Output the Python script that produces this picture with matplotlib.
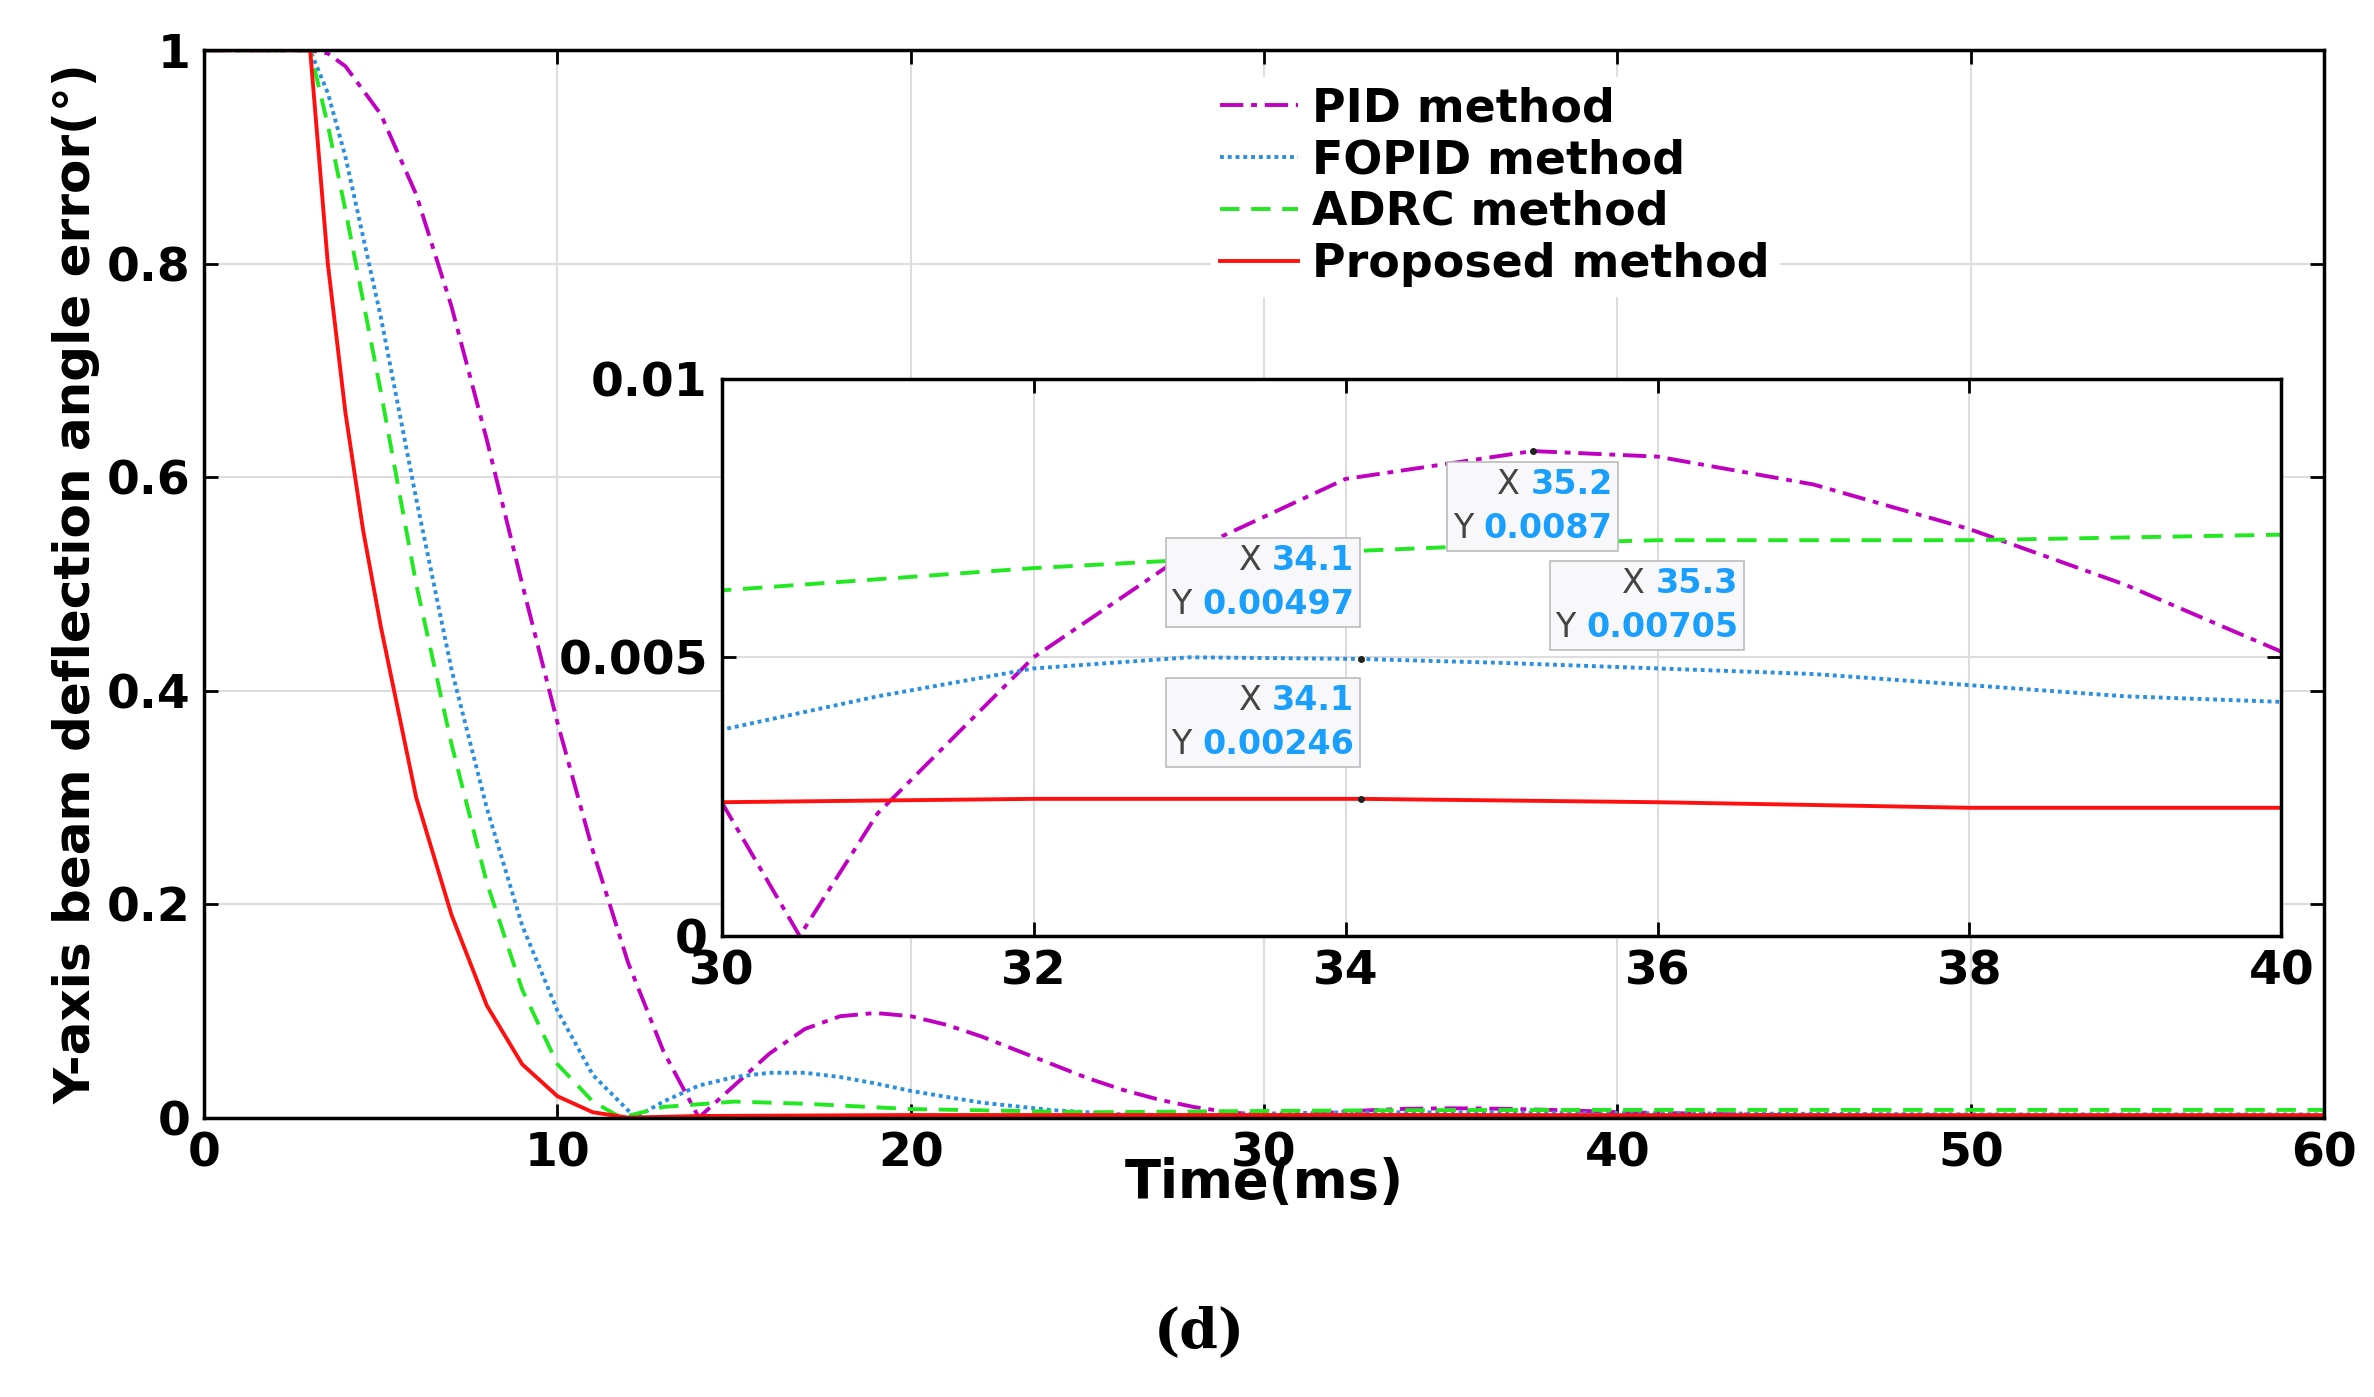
import matplotlib
matplotlib.use('Agg')
from matplotlib import pyplot as plt
from matplotlib.offsetbox import TextArea, HPacker, VPacker, AnnotationBbox
import numpy as np

t_pid = [0, 3, 3.5, 4, 5, 6, 7, 8, 9, 10, 11, 12, 13, 14, 15, 16, 17, 18, 19, 20, 21, 22, 23, 24, 25, 26, 27, 28, 29,
         30, 30.5, 31, 32, 33, 34, 35.2, 36, 37, 38, 39, 40, 45, 50, 55, 60]
y_pid = [1, 1, 0.997, 0.985, 0.94, 0.865, 0.76, 0.635, 0.5, 0.37, 0.25, 0.145, 0.062, 0.0, 0.03, 0.06, 0.083, 0.095,
         0.098, 0.095, 0.087, 0.076, 0.063, 0.05, 0.037, 0.026, 0.017, 0.01, 0.005, 0.0024, 0.0, 0.0022, 0.005,
         0.0069, 0.0082, 0.0087, 0.0086, 0.0081, 0.0073, 0.0063, 0.0051, 0.002, 0.001, 0.0008, 0.0006]

t_fopid = [0, 3, 3.5, 4, 5, 6, 7, 8, 9, 10, 11, 12.2, 13, 14, 15, 16, 17, 18, 19, 20, 22, 24, 26, 28,
           30, 31, 32, 33, 34.1, 35, 36, 37, 38, 39, 40, 50, 60]
y_fopid = [1, 1, 0.96, 0.9, 0.75, 0.58, 0.42, 0.29, 0.18, 0.1, 0.04, 0.0, 0.015, 0.03, 0.038, 0.042, 0.042, 0.038,
           0.032, 0.025, 0.014, 0.007, 0.003, 0.002, 0.0037, 0.0043, 0.0048, 0.005, 0.00497, 0.0049, 0.0048,
           0.0047, 0.0045, 0.0043, 0.0042, 0.003, 0.003]

t_adrc = [0, 3, 3.5, 4, 5, 6, 7, 8, 9, 10, 11, 11.8, 13, 15, 17, 20, 25, 30, 32, 34, 35.3, 36, 38, 40, 50, 60]
y_adrc = [1, 1, 0.93, 0.85, 0.68, 0.5, 0.35, 0.22, 0.12, 0.05, 0.015, 0.0, 0.01, 0.015, 0.013, 0.008, 0.005,
          0.0062, 0.0066, 0.0069, 0.00705, 0.0071, 0.0071, 0.0072, 0.0072, 0.0072]

t_prop = [0, 3, 3.5, 4, 4.5, 5, 6, 7, 8, 9, 10, 11, 12, 14, 20, 30, 32, 34.1, 36, 38, 40, 50, 60]
y_prop = [1, 1, 0.8, 0.66, 0.55, 0.46, 0.3, 0.19, 0.105, 0.05, 0.02, 0.005, 0.0, 0.0015, 0.0024, 0.0024, 0.00246,
          0.00246, 0.0024, 0.0023, 0.0023, 0.0023, 0.0023]

tips = [(35.2, 0.0087, '35.2', '0.0087'), (34.1, 0.00497, '34.1', '0.00497'),
        (35.3, 0.00705, '35.3', '0.00705'), (34.1, 0.00246, '34.1', '0.00246')]

plt.rcParams['font.family'] = 'DejaVu Sans'
plt.rcParams['font.weight'] = 'bold'

fig = plt.figure(figsize=(23.74, 13.97), dpi=100)
ax = fig.add_axes([0.086, 0.20, 0.893, 0.764])

series = [(t_pid, y_pid, '#c000c0', (0, (6, 2, 1.5, 2)), 'PID method'),
          (t_fopid, y_fopid, '#2b8fe0', (0, (1, 1)), 'FOPID method'),
          (t_adrc, y_adrc, '#22e822', (0, (5, 3)), 'ADRC method'),
          (t_prop, y_prop, '#ff1010', '-', 'Proposed method')]

for t, y, c, ls, lab in series:
    ax.plot(t, y, color=c, linestyle=ls, linewidth=2.8, label=lab)

ax.set_xlim(0, 60)
ax.set_ylim(0, 1)
ax.set_xticks([0, 10, 20, 30, 40, 50, 60])
ax.set_yticks([0, 0.2, 0.4, 0.6, 0.8, 1])
ax.set_yticklabels(['0', '0.2', '0.4', '0.6', '0.8', '1'])
ax.grid(True, color='#dddddd', linewidth=1.5)
ax.tick_params(direction='in', top=True, right=True, length=10, width=2, labelsize=34, pad=10)
for s in ax.spines.values():
    s.set_linewidth(2.5)
ax.set_xlabel('Time(ms)', fontsize=38, fontweight='bold', labelpad=-14)
ax.set_ylabel('Y-axis beam deflection angle error(°)', fontsize=36, fontweight='bold', labelpad=4)
leg = ax.legend(loc='upper left', bbox_to_anchor=(0.475, 0.975), fontsize=33, frameon=True,
                handlelength=1.7, handletextpad=0.3, borderaxespad=0, labelspacing=0.15, borderpad=0.2)
leg.get_frame().set_edgecolor('white')
leg.get_frame().set_alpha(1)

ins = fig.add_axes([0.304, 0.330, 0.657, 0.399])
for t, y, c, ls, lab in series:
    ins.plot(t, y, color=c, linestyle=ls, linewidth=2.8)
ins.set_xlim(30, 40)
ins.set_ylim(0, 0.01)
ins.set_xticks([30, 32, 34, 36, 38, 40])
ins.set_yticks([0, 0.005, 0.01])
ins.set_yticklabels(['0', '0.005', '0.01'])
ins.grid(True, color='#dddddd', linewidth=1.5)
ins.tick_params(direction='in', top=True, right=True, length=10, width=2, labelsize=34, pad=10)
for s in ins.spines.values():
    s.set_linewidth(2.5)

# (offset in points, box alignment)
placement = [((0, -40), (0.5, 0.5)), ((-5, 55), (1, 0.5)), ((5, -45), (0, 0.5)), ((-5, 55), (1, 0.5))]
for (x, y, xs, ys), (off, align) in zip(tips, placement):
    ins.plot(x, y, 'o', color='#222222', markersize=4)
    row1 = HPacker(children=[TextArea('X ', textprops=dict(color='#444444', fontsize=24, fontweight='normal')),
                             TextArea(xs, textprops=dict(color='#1a9fff', fontsize=24, fontweight='bold'))],
                   align='baseline', pad=0, sep=0)
    row2 = HPacker(children=[TextArea('Y ', textprops=dict(color='#444444', fontsize=24, fontweight='normal')),
                             TextArea(ys, textprops=dict(color='#1a9fff', fontsize=24, fontweight='bold'))],
                   align='baseline', pad=0, sep=0)
    box = VPacker(children=[row1, row2], align='right', pad=0, sep=8)
    ab = AnnotationBbox(box, (x, y), xybox=off, boxcoords='offset points',
                        bboxprops=dict(facecolor='#f8f8fb', edgecolor='#bbbbbb', linewidth=1.2),
                        pad=0.4, box_alignment=align)
    ins.add_artist(ab)

fig.text(0.505, 0.035, '(d)', fontsize=40, fontweight='bold', family='DejaVu Serif', ha='center')

fig.savefig('out.png')
